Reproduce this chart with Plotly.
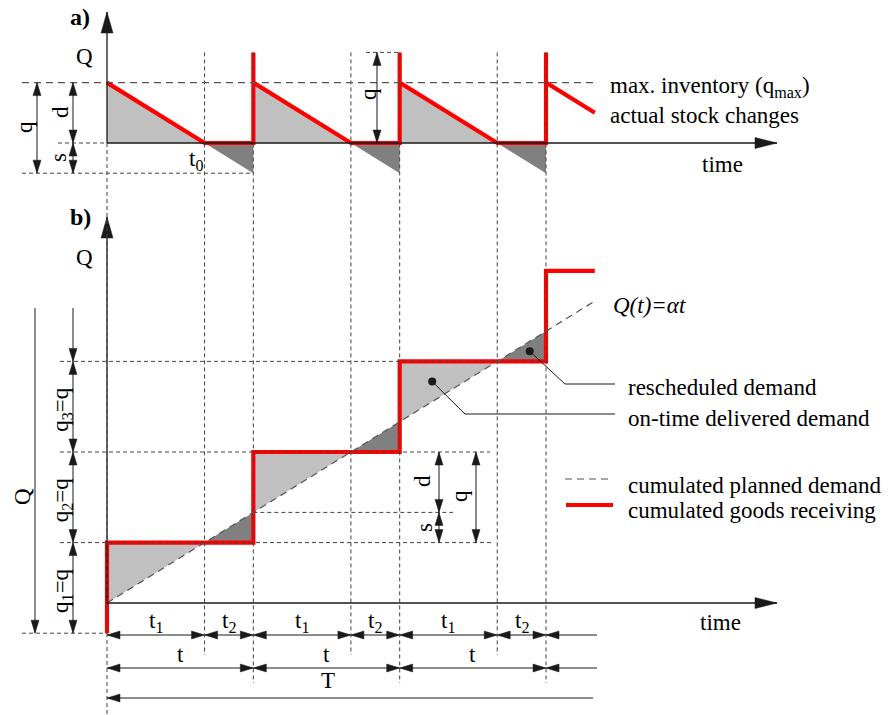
import math
import plotly.graph_objects as go

# ---------------- data (model units: time unit = t2, quantity unit = s) ----------------
t1 = 2.0                      # part of cycle delivered on time
t2 = 1.0                      # part of cycle with shortage
t_cycle = t1 + t2             # t
d_amt = 2.0                   # d
s_amt = 1.0                   # s
q_lot = d_amt + s_amt         # q
cycle_start = [0.0, 3.0, 6.0]  # complete cycles (deliveries)

# panel a) actual stock changes
stock_t = [0, 2, 3, 3, 3, 5, 6, 6, 6, 8, 9, 9, 9, 10]
stock_q = [2, 0, 0, 3, 2, 0, 0, 3, 2, 0, 0, 3, 2, 1]

# panel b) cumulated goods receiving / cumulated planned demand Q(t)=alpha*t
recv_t = [0, 0, 3, 3, 6, 6, 9, 9, 10]
recv_q = [-1, 2, 2, 5, 5, 8, 8, 11, 11]
plan_t = [0, 10]
plan_q = [0, 10]

t1_bounds = [0, 2, 3, 5, 6, 8, 9]      # t1 / t2 boundaries
t_bounds = [0, 3, 6, 9]                # cycle boundaries
row1_labels = ["t<sub>1</sub>", "t<sub>2</sub>"] * 3
row2_labels = ["t"] * 3
lot_labels = ["q<sub>1</sub>=q", "q<sub>2</sub>=q", "q<sub>3</sub>=q"]
recv_levels = [-1, 2, 5, 8]

# ---------------- scales ----------------
W, H = 890, 715
PX_T, PX_Q = 48.78, 30.2
X0, YA0, YB0 = 107.0, 143.0, 603.0
FONT = "Liberation Serif, Times New Roman, serif"
INK = "#1a1a1a"
GUIDE = "#444444"
RED = "#ff0000"


def tx(px):
    return (px - X0) / PX_T


def qa(py):
    return (YA0 - py) / PX_Q


def qb(py):
    return (YB0 - py) / PX_Q


def to_px(t, v, panel):
    y0 = YA0 if panel == "a" else YB0
    return X0 + t * PX_T, y0 - v * PX_Q


def to_data(X, Y, panel):
    y0 = YA0 if panel == "a" else YB0
    return (X - X0) / PX_T, (y0 - Y) / PX_Q


fig = go.Figure()


def add_line(xs, ys, panel, color=INK, width=1.0, dash="solid", fill=None, fillcolor=None):
    fig.add_trace(go.Scatter(
        x=xs, y=ys, mode="lines", yaxis="y2" if panel == "a" else "y",
        line=dict(color=color, width=width, dash=dash),
        fill=fill, fillcolor=fillcolor, hoverinfo="skip", showlegend=False,
        connectgaps=False))


def polys(tri_list):
    xs, ys = [], []
    for tri in tri_list:
        for (a, b) in tri:
            xs.append(a)
            ys.append(b)
        xs.append(tri[0][0])
        ys.append(tri[0][1])
        xs.append(None)
        ys.append(None)
    return xs, ys


heads = {"a": [], "b": []}


def head(tip, tail, panel, L=13, Wd=8):
    X1, Y1 = to_px(tip[0], tip[1], panel)
    X2, Y2 = to_px(tail[0], tail[1], panel)
    dx, dy = X1 - X2, Y1 - Y2
    n = math.hypot(dx, dy)
    ux, uy = dx / n, dy / n
    bx, by = X1 - ux * L, Y1 - uy * L
    px_, py_ = -uy, ux
    pts = [(X1, Y1), (bx + px_ * Wd / 2, by + py_ * Wd / 2), (bx - px_ * Wd / 2, by - py_ * Wd / 2)]
    heads[panel].append([to_data(p[0], p[1], panel) for p in pts])


segs = {"a": ([], []), "b": ([], [])}


def seg(p1, p2, panel):
    xs, ys = segs[panel]
    xs += [p1[0], p2[0], None]
    ys += [p1[1], p2[1], None]


def dim(p1, p2, panel, start=True, end=True):
    seg(p1, p2, panel)
    if end:
        head(p2, p1, panel)
    if start:
        head(p1, p2, panel)


# ---------------- panel a: areas ----------------
light_a = [[(c, d_amt), (c, 0), (c + t1, 0)] for c in cycle_start]
dark_a = [[(c + t1, 0), (c + t_cycle, 0), (c + t_cycle, -s_amt)] for c in cycle_start]
xs, ys = polys(light_a)
add_line(xs, ys, "a", color="rgba(0,0,0,0)", width=0, fill="toself", fillcolor="#c0c0c0")
xs, ys = polys(dark_a)
add_line(xs, ys, "a", color="rgba(0,0,0,0)", width=0, fill="toself", fillcolor="#808080")

# ---------------- panel b: areas ----------------
light_b = [[(c, c), (c, c + d_amt), (c + t1, c + d_amt)] for c in cycle_start]
dark_b = [[(c + t1, c + d_amt), (c + t_cycle, c + d_amt), (c + t_cycle, c + t_cycle)] for c in cycle_start]
xs, ys = polys(light_b)
add_line(xs, ys, "b", color="rgba(0,0,0,0)", width=0, fill="toself", fillcolor="#c0c0c0")
xs, ys = polys(dark_b)
add_line(xs, ys, "b", color="rgba(0,0,0,0)", width=0, fill="toself", fillcolor="#808080")

# ---------------- red curves ----------------
add_line(stock_t, stock_q, "a", color=RED, width=4.2)
add_line(recv_t, recv_q, "b", color=RED, width=4.2)

# ---------------- guide lines (drawn over the red curves) ----------------
gd = "4px,3px"
vx, vy = [], []
for t in t1_bounds[1:]:
    bottom = qa(683) if t in t_bounds else qa(655)
    vx += [t, t, None]
    vy += [q_lot, bottom, None]
vx += [0, 0, None]
vy += [0, qa(H), None]
add_line(vx, vy, "a", color=GUIDE, width=1, dash=gd)

# panel a horizontals
hx = [tx(58), 0, None, tx(22), 3, None, tx(366), 6, None]
hy = [0, 0, None, -s_amt, -s_amt, None, q_lot, q_lot, None]
add_line(hx, hy, "a", color=GUIDE, width=1, dash=gd)
add_line([tx(22), tx(593)], [d_amt, d_amt], "a", color="#555555", width=1.2, dash="7px,5px")

# panel b horizontals
hx = [tx(60), 9, None, tx(60), tx(490), None, 3, tx(453), None, tx(60), tx(492), None, tx(22), 0, None]
hy = [8, 8, None, 5, 5, None, 3, 3, None, 2, 2, None, -1, -1, None]
add_line(hx, hy, "b", color=GUIDE, width=1, dash=gd)

# planned demand (dashed diagonal)
add_line(plan_t, plan_q, "b", color="#555555", width=1.2, dash="7px,5px")

# ---------------- axes ----------------
add_line([0, 0, None, 0, tx(777)], [0, qa(12), None, 0, 0], "a", color=INK, width=1.3)
add_line([0, 0, None, 0, tx(777)], [0, qb(217), None, 0, 0], "b", color=INK, width=1.3)
head((0, qa(12)), (0, 0), "a", L=21, Wd=12)
head((tx(777), 0), (0, 0), "a", L=22, Wd=11)
head((0, qb(217)), (0, 0), "b", L=21, Wd=12)
head((tx(777), 0), (0, 0), "b", L=22, Wd=11)

# ---------------- dimension arrows panel a ----------------
dim((tx(37), d_amt), (tx(37), -s_amt), "a")
dim((tx(73), d_amt), (tx(73), 0), "a")
dim((tx(73), 0), (tx(73), -s_amt), "a")
dim((tx(377), q_lot), (tx(377), 0), "a")

# ---------------- dimension arrows panel b ----------------
top_b = qb(308)
dim((tx(73), top_b), (tx(73), recv_levels[3]), "b", start=False)
for lo, hi in zip(recv_levels[:-1], recv_levels[1:]):
    dim((tx(73), hi), (tx(73), lo), "b")
dim((tx(35), top_b), (tx(35), recv_levels[0]), "b", start=False)
dim((tx(439), 5), (tx(439), 3), "b")
dim((tx(439), 3), (tx(439), 2), "b")
dim((tx(476), 5), (tx(476), 2), "b")

r1, r2, r3 = qb(635), qb(668), qb(698)
for a, b in zip(t1_bounds[:-1], t1_bounds[1:]):
    dim((a, r1), (b, r1), "b")
dim((9, r1), (tx(597), r1), "b", end=False)
for a, b in zip(t_bounds[:-1], t_bounds[1:]):
    dim((a, r2), (b, r2), "b")
dim((9, r2), (tx(597), r2), "b", end=False)
dim((0, r3), (tx(593), r3), "b", end=False)

# callout leaders (dots at the centroids of the last complete cycle's areas)
c = cycle_start[2]
c_dark = (c + t1 + 2 * t2 / 3, c + d_amt + t2 / 3)
c_light = (c + t1 / 3, c + 2 * d_amt / 3)
seg(c_dark, (tx(565), qb(384)), "b")
seg((tx(565), qb(384)), (tx(615), qb(384)), "b")
seg(c_light, (tx(465), qb(414)), "b")
seg((tx(465), qb(414)), (tx(615), qb(414)), "b")

for p in ("a", "b"):
    add_line(segs[p][0], segs[p][1], p, color=INK, width=1)
    xs, ys = polys(heads[p])
    add_line(xs, ys, p, color=INK, width=0.5, fill="toself", fillcolor=INK)

fig.add_trace(go.Scatter(x=[c_dark[0], c_light[0]], y=[c_dark[1], c_light[1]], mode="markers",
                         marker=dict(color=INK, size=8), hoverinfo="skip", showlegend=False))

# legend samples
add_line([tx(565), tx(610)], [qb(479), qb(479)], "b", color="#555555", width=1.2, dash="7px,5px")
add_line([tx(566), tx(613)], [qb(505), qb(505)], "b", color=RED, width=4.2)

# ---------------- texts ----------------
def txt(s, px, py, size=23, angle=0, xanchor="center", bold=False):
    fig.add_annotation(text=("<b>%s</b>" % s) if bold else s, x=px / W, y=1 - py / H,
                       xref="paper", yref="paper", showarrow=False, textangle=angle,
                       xanchor=xanchor, yanchor="middle",
                       font=dict(family=FONT, size=size, color="#000000"))


txt("a)", 80, 17, size=24, bold=True)
txt("Q", 84, 56)
txt("t<sub>0</sub>", 196, 160)
txt("q", 24, 127, angle=-90)
txt("d", 60, 112, angle=-90)
txt("s", 58, 158, angle=-90)
txt("q", 369, 94, angle=-90)
txt("time", 722, 164)
txt("max. inventory (q<sub>max</sub>)", 608, 87, xanchor="left")
txt("actual stock changes", 608, 116, xanchor="left")

txt("b)", 80, 217, size=24, bold=True)
txt("Q", 84, 258)
txt("Q", 22, 497, angle=-90)
for lab, lo, hi in zip(lot_labels, recv_levels[:-1], recv_levels[1:]):
    py = YB0 - (lo + hi) / 2 * PX_Q
    txt(lab, 62, py + 2, angle=-90)
txt("d", 422, 481, angle=-90)
txt("s", 424, 528, angle=-90)
txt("q", 460, 496, angle=-90)
txt("<i>Q(t)=αt</i>", 611, 305, xanchor="left")
txt("rescheduled demand", 626, 387, xanchor="left")
txt("on-time delivered demand", 626, 418, xanchor="left")
txt("cumulated planned demand", 626, 485, xanchor="left")
txt("cumulated goods receiving", 626, 510, xanchor="left")
txt("time", 720, 622)
for lab, a, b in zip(row1_labels, t1_bounds[:-1], t1_bounds[1:]):
    txt(lab, X0 + (a + b) / 2 * PX_T, 622)
for lab, a, b in zip(row2_labels, t_bounds[:-1], t_bounds[1:]):
    txt(lab, X0 + (a + b) / 2 * PX_T, 654)
txt("T", 328, 680)

fig.update_layout(
    width=W, height=H, margin=dict(l=0, r=0, t=0, b=0),
    paper_bgcolor="white", plot_bgcolor="white", showlegend=False,
    xaxis=dict(range=[tx(0), tx(W)], visible=False, fixedrange=True),
    yaxis=dict(range=[qb(H), qb(0)], visible=False, fixedrange=True),
    yaxis2=dict(range=[qa(H), qa(0)], visible=False, overlaying="y", fixedrange=True),
)

fig.write_html("out.html", config={"displayModeBar": False},
               post_script="document.body.style.margin='0px';")
